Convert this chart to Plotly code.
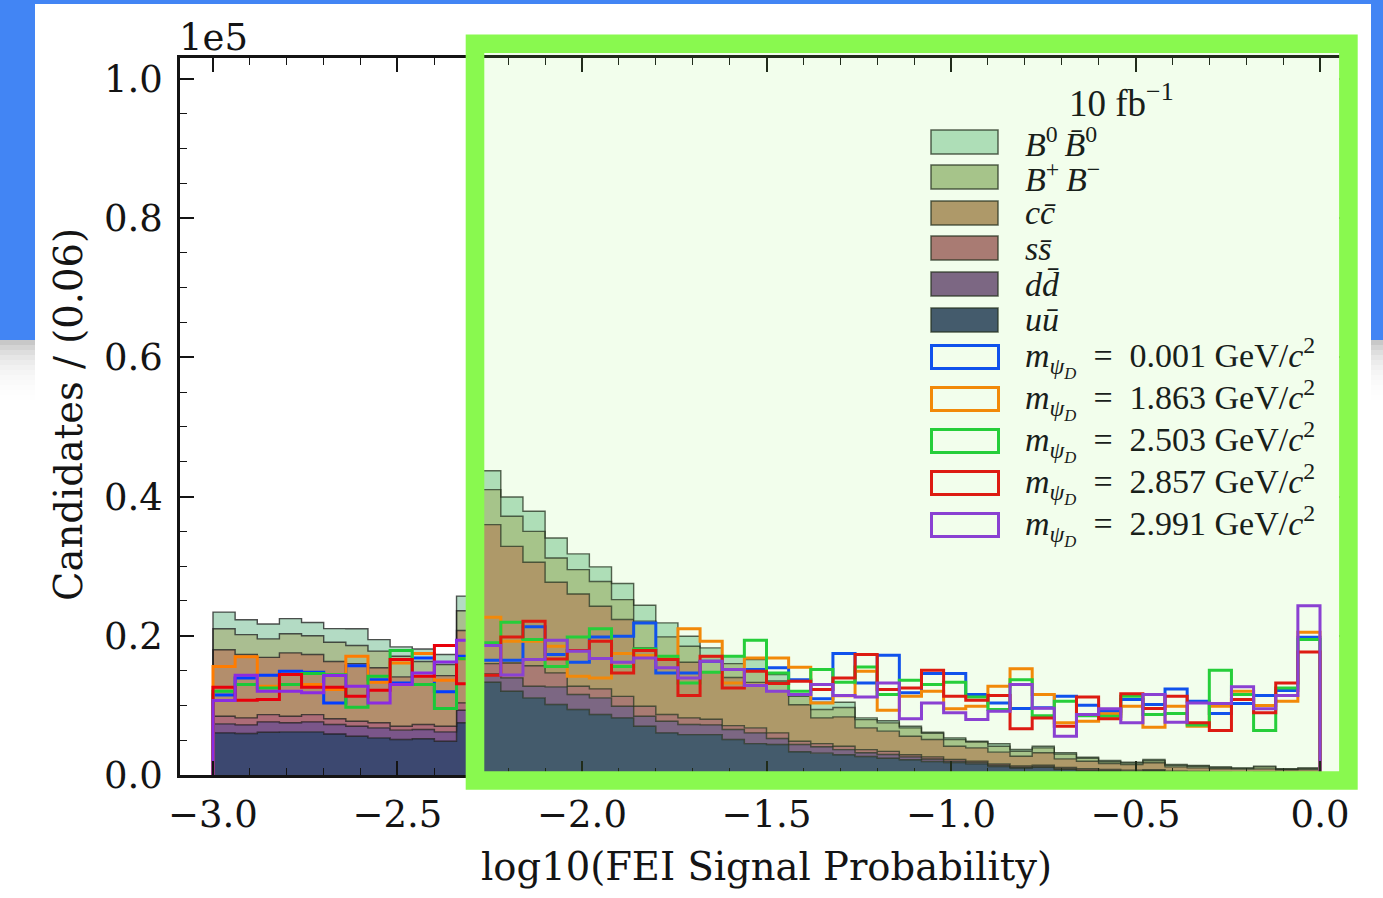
import numpy as np
import plotly.graph_objects as go

# Binning: 50 bins of width 0.06 in log10(FEI signal probability)
BIN_EDGES = np.linspace(-3.0, 0.0, 51)

# Background yields per bin for 10 fb^-1 (candidates), bottom of the stack first
UU = [6050, 5960, 6150, 6200, 6200, 5900, 5570, 5340, 5100, 5200,
      4850, 7500, 13330, 12030, 11080, 10120, 9400, 8690, 8200, 7000,
      6050, 5800, 5800, 5100, 4500, 4380, 3330, 3140, 2900, 2660,
      2400, 2200, 1950, 1800, 1600, 1200, 1000, 1100, 800, 600,
      500, 450, 500, 350, 300, 250, 200, 220, 150, 180]
DD = [1300, 1240, 1480, 1300, 1430, 1350, 1430, 1430, 1340, 1330,
      1350, 1800, 1170, 1920, 1670, 2540, 2160, 2390, 1680, 1450,
      1680, 1450, 1400, 1430, 1550, 860, 1050, 910, 750, 540,
      550, 400, 350, 200, 200, 200, 100, 100, 100, 100,
      100, 100, 100, 80, 80, 70, 70, 80, 50, 60]
SS = [1100, 1000, 1050, 950, 1050, 820, 730, 730, 560, 720,
      800, 1060, 1500, 2150, 2950, 2010, 1190, 1290, 1420, 1430,
      960, 950, 800, 570, 720, 810, 470, 450, 490, 450,
      450, 300, 300, 250, 200, 200, 200, 200, 200, 200,
      200, 150, 150, 120, 120, 100, 90, 100, 100, 90]
CC = [9550, 9100, 8220, 9090, 8620, 8230, 8270, 7900, 7100, 6950,
      7280, 10390, 19970, 16750, 14860, 13010, 13250, 11870, 11030, 8380,
      8110, 8000, 6800, 6900, 6530, 5980, 5250, 3700, 4210, 3120,
      2900, 2670, 2500, 1880, 1900, 1680, 1400, 1800, 1220, 1080,
      850, 800, 1000, 620, 530, 480, 480, 480, 450, 450]
BPBM = [3000, 2870, 2650, 2760, 2700, 2770, 2600, 2400, 2960, 2100,
        1590, 2850, 5030, 4310, 4440, 3500, 3500, 3560, 2870, 3840,
        3040, 2300, 2200, 2000, 1850, 1470, 1200, 1200, 1350, 1190,
        1190, 1200, 900, 960, 850, 860, 720, 700, 680, 420,
        250, 200, 300, 210, 220, 170, 110, 290, 80, 170]
B0B0 = [2400, 2130, 2150, 2170, 1900, 1960, 2400, 1650, 1340, 1800,
        1430, 2100, 2700, 2780, 2880, 2870, 2260, 2100, 2300, 2280,
        2010, 1430, 1260, 1060, 1430, 930, 260, 1050, 750, 240,
        310, 230, 150, 250, 100, 340, 240, 230, 200, 160,
        180, 140, 170, 120, 110, 100, 80, 100, 70, 80]

# Signal yields per bin for each dark-particle mass hypothesis
SIG_0P001 = [11500, 13950, 14330, 14900, 14760, 10360, 15700, 13700, 13200, 16800,
             11950, 17060, 16500, 16480, 21280, 17300, 16200, 19840, 19930, 21850,
             14670, 14670, 16340, 15150, 15150, 15400, 13700, 10940, 17440, 13230,
             17200, 11800, 14570, 14570, 11560, 10360, 9550, 9650, 11300, 10030,
             9170, 10840, 10120, 12370, 10600, 8830, 10260, 11410, 12130, 19800]
SIG_1P863 = [15600, 16970, 12750, 13000, 13000, 12280, 17060, 13330, 16100, 17440,
             13600, 16700, 22660, 19200, 19200, 18500, 14180, 13950, 17440, 17160,
             16800, 21000, 19200, 13230, 16800, 16800, 15480, 10360, 11400, 14900,
             9300, 11300, 12030, 9500, 9880, 12750, 15250, 11560, 7500, 7730,
             8800, 9880, 6870, 9880, 7000, 9880, 12030, 10000, 10600, 20500]
SIG_2P503 = [12030, 13000, 12500, 13000, 14570, 14400, 9730, 14180, 17900, 13000,
             9550, 16700, 19000, 21940, 19460, 15600, 19840, 21000, 15600, 18100,
             17060, 13230, 14760, 17060, 19360, 14670, 12030, 15150, 13330, 15530,
             11560, 13600, 13000, 13330, 11220, 9400, 13700, 8500, 10600, 8500,
             8450, 11300, 8690, 8830, 7200, 15050, 11560, 6390, 12500, 19460]
SIG_2P857 = [12600, 10740, 10840, 14430, 12600, 12600, 11300, 12180, 16580, 14180,
             18600, 13100, 14340, 19840, 22080, 16680, 17900, 19200, 14670, 17900,
             16580, 11410, 17060, 12500, 14900, 13140, 13470, 12280, 13950, 17300,
             12280, 12500, 15050, 11300, 10740, 11410, 6630, 8200, 7000, 11220,
             8070, 11660, 9550, 11300, 7500, 6390, 10840, 8930, 13230, 17680]
SIG_2P991 = [10700, 14330, 12030, 12030, 11800, 14280, 12750, 10360, 13000, 14670,
             16250, 19350, 18600, 14380, 16580, 19360, 17780, 16730, 16200, 16800,
             15400, 13950, 16340, 15150, 12850, 12030, 11560, 13000, 11410, 11220,
             13230, 8070, 10360, 8930, 7970, 9170, 13000, 9600, 5570, 8690,
             9500, 7500, 11560, 7580, 10360, 10260, 12660, 9500, 11410, 24330]

X_TICKS = [-3.0, -2.5, -2.0, -1.5, -1.0, -0.5, 0.0]
X_TICK_TEXT = ["\u22123.0", "\u22122.5", "\u22122.0", "\u22121.5", "\u22121.0", "\u22120.5", "0.0"]
Y_TICKS = [0, 20000, 40000, 60000, 80000, 100000]
Y_TICK_TEXT = ["0.0", "0.2", "0.4", "0.6", "0.8", "1.0"]

BACKGROUNDS = [  # (label, yields, fill colour), stacked from the bottom
    ("<i>u\u016b</i>", UU, "#3c4870"),
    ("<i>dd\u0304</i>", DD, "#7b568a"),
    ("<i>ss\u0304</i>", SS, "#ad6c78"),
    ("<i>cc\u0304</i>", CC, "#b38e6c"),
    ("<i>B</i><sup>+</sup>\u2009<i>B</i><sup>\u2212</sup>", BPBM, "#aabe91"),
    ("<i>B</i><sup>0</sup>\u2009<i>B\u0304</i><sup>0</sup>", B0B0, "#b3dbc4"),
]
SIGNALS = [  # (mass label, yields, line colour)
    ("0.001", SIG_0P001, "#023eff"),
    ("1.863", SIG_1P863, "#ff7c00"),
    ("2.503", SIG_2P503, "#1ac938"),
    ("2.857", SIG_2P857, "#e8000b"),
    ("2.991", SIG_2P991, "#8b2be2"),
]

W, H = 1383, 898
PL, PR, PT, PB = 180, 1353, 58, 775   # plot-area edges in pixels
SERIF = "DejaVu Serif"
MATH = "Liberation Serif"
INK = "#141414"
LEG_INK = "#18201a"
EDGE = "rgba(25,25,25,0.75)"


def px(x):
    return (x - PL) / (PR - PL)


def py(y):
    return (PB - y) / (PB - PT)


# Step outline of a histogram: up at the first edge, across every bin, down at the last edge
STEP_X = np.concatenate([[BIN_EDGES[0]], BIN_EDGES[:-1], [BIN_EDGES[-1], BIN_EDGES[-1]]])


def step_y(vals):
    v = np.asarray(vals, dtype=float)
    return np.concatenate([[0.0], v, [v[-1], 0.0]])


fig = go.Figure()

cum = np.zeros(len(BIN_EDGES) - 1)
for i, (label, vals, col) in enumerate(BACKGROUNDS):
    cum = cum + np.asarray(vals, dtype=float)
    fig.add_trace(go.Scatter(
        x=STEP_X, y=step_y(cum), mode="lines",
        line=dict(shape="hv", color=EDGE, width=1.4),
        fill="tozeroy" if i == 0 else "tonexty", fillcolor=col,
        showlegend=False, hoverinfo="skip"))

for mass, vals, col in SIGNALS:
    fig.add_trace(go.Scatter(
        x=STEP_X, y=step_y(vals), mode="lines",
        line=dict(shape="hv", color=col, width=3),
        showlegend=False, hoverinfo="skip"))

axis_common = dict(
    ticks="inside", ticklen=14, tickwidth=1.5, tickcolor=INK,
    showline=True, linewidth=2.5, linecolor=INK, mirror="allticks",
    showgrid=False, zeroline=False,
    tickfont=dict(family=SERIF, size=37, color=INK),
)
fig.update_layout(
    width=W, height=H,
    margin=dict(l=PL, r=W - PR, t=PT, b=H - PB, autoexpand=False),
    paper_bgcolor="white", plot_bgcolor="white", showlegend=False,
    xaxis=dict(range=[-3.0894, 0.0894], tickmode="array", tickvals=X_TICKS, ticktext=X_TICK_TEXT,
               ticklabelstandoff=5,
               minor=dict(tickmode="linear", tick0=0, dtick=0.1, ticks="inside", ticklen=7,
                          tickwidth=1.2, tickcolor=INK, showgrid=False),
               **axis_common),
    yaxis=dict(range=[0, 103000], tickmode="array", tickvals=Y_TICKS, ticktext=Y_TICK_TEXT,
               ticklabelstandoff=7,
               minor=dict(tickmode="linear", tick0=0, dtick=5000, ticks="inside", ticklen=7,
                          tickwidth=1.2, tickcolor=INK, showgrid=False),
               **axis_common),
)

shapes = []
# Slide background around the white card
BLUE = "#4285f4"
for x0, x1, y0, y1 in [(0, W, 0, 4), (0, 35, 0, 340), (1371, W, 0, 340)]:
    shapes.append(dict(type="rect", xref="paper", yref="paper", layer="below",
                       x0=px(x0), x1=px(x1), y0=py(y1), y1=py(y0),
                       fillcolor=BLUE, line=dict(width=0)))
grays = [200, 212, 222, 230, 236, 241, 245, 248, 250, 252, 253, 254]
for k, g in enumerate(grays):
    ya, yb = 340 + 5 * k, 345 + 5 * k
    for x0, x1 in [(0, 35), (1371, W)]:
        shapes.append(dict(type="rect", xref="paper", yref="paper", layer="below",
                           x0=px(x0), x1=px(x1), y0=py(yb), y1=py(ya),
                           fillcolor=f"rgb({g},{g},{g})", line=dict(width=0)))

# Legend swatches and labels
annotations = []
LEG_X0, LEG_X1 = 931, 998
bg_rows = [320, 284, 248, 213, 177, 142]       # uu ... B0B0
for (label, vals, col), yc in zip(BACKGROUNDS, bg_rows):
    shapes.append(dict(type="rect", xref="paper", yref="paper", layer="above",
                       x0=px(LEG_X0), x1=px(LEG_X1), y0=py(yc + 12), y1=py(yc - 12),
                       fillcolor=col, line=dict(color=EDGE, width=1.5)))
    annotations.append(dict(xref="paper", yref="paper", x=px(1023), y=py(yc),
                            xanchor="left", yanchor="middle", showarrow=False, text=label,
                            font=dict(family=MATH, size=34, color=LEG_INK)))
sig_rows = [357, 399, 441, 483, 525]
for (mass, vals, col), yc in zip(SIGNALS, sig_rows):
    shapes.append(dict(type="rect", xref="paper", yref="paper", layer="above",
                       x0=px(931.5), x1=px(998.5), y0=py(yc + 11.5), y1=py(yc - 11.5),
                       fillcolor="rgba(0,0,0,0)", line=dict(color=col, width=3)))
    annotations.append(dict(xref="paper", yref="paper", x=px(1023), y=py(yc),
                            xanchor="left", yanchor="middle", showarrow=False,
                            text=(f"<i>m</i><sub><i>\u03c8</i><sub><i>D</i></sub></sub>\u2002=\u2002"
                                  f"{mass} GeV/<i>c</i><sup>2</sup>"),
                            font=dict(family=MATH, size=34, color=LEG_INK)))

# Highlight frame drawn over the right-hand part of the plot
shapes.append(dict(type="rect", xref="paper", yref="paper", layer="above",
                   x0=px(475.0), x1=px(1348.4), y0=py(780.5), y1=py(43.8),
                   fillcolor="rgba(136,248,80,0.11)", line=dict(color="#89f94f", width=18.6)))

annotations += [
    dict(xref="paper", yref="paper", x=px(177), y=py(37), xanchor="left", yanchor="middle",
         showarrow=False, text="1e5", font=dict(family=SERIF, size=37, color=INK)),
    dict(xref="paper", yref="paper", x=px(68), y=py(415), xanchor="center", yanchor="middle",
         showarrow=False, textangle=-90, text="Candidates / (0.06)",
         font=dict(family=SERIF, size=38.5, color=INK)),
    dict(xref="paper", yref="paper", x=px(766), y=py(866), xanchor="center", yanchor="middle",
         showarrow=False, text="log10(FEI Signal Probability)",
         font=dict(family=SERIF, size=38.5, color=INK)),
    dict(xref="paper", yref="paper", x=px(1067), y=py(100), xanchor="left", yanchor="middle",
         showarrow=False, text="10 fb<sup>\u22121</sup>",
         font=dict(family=MATH, size=37, color=LEG_INK)),
]

fig.update_layout(shapes=shapes, annotations=annotations)
fig.write_html("out.html", config={"displayModeBar": False})
